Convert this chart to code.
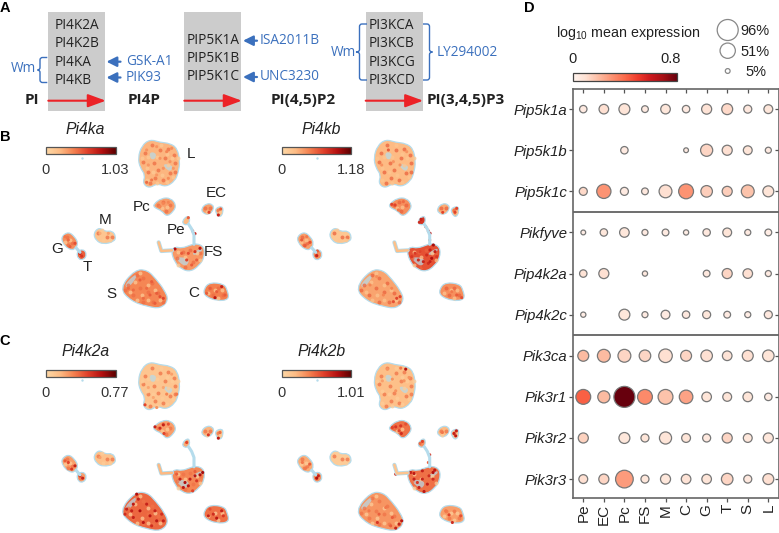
import numpy as np, pandas as pd, seaborn as sns
import matplotlib
matplotlib.use("Agg")
import matplotlib.pyplot as plt
from matplotlib.colors import LinearSegmentedColormap, Normalize
from matplotlib.cm import ScalarMappable
from matplotlib.path import Path
from matplotlib.patches import PathPatch, Rectangle

sns.set_theme(style="white")
plt.rcParams['font.family'] = ['Liberation Sans', 'DejaVu Sans']
plt.rcParams['mathtext.default'] = 'regular'

W, H = 779, 533
N = np.nan
genes = ['Pip5k1a','Pip5k1b','Pip5k1c','Pikfyve','Pip4k2a','Pip4k2c','Pik3ca','Pik3r1','Pik3r2','Pik3r3']
cells = ['Pe','EC','Pc','FS','M','C','G','T','S','L']
pct = [[12,20,26,10,20,12,22,26,14,17],
       [N,N,12,N,N,5,32,22,17,8],
       [14,44,14,10,36,48,29,22,36,26],
       [5,12,20,8,10,6,12,17,8,10],
       [12,22,N,6,N,N,10,22,20,8],
       [6,N,26,8,17,12,14,10,8,14],
       [26,36,36,29,40,26,29,20,26,29],
       [48,32,96,48,48,40,20,17,20,12],
       [22,N,26,14,32,17,14,22,17,22],
       [17,22,68,14,22,20,20,29,14,26]]
expr = [[.05,.10,.08,.05,.07,.05,.09,.12,.06,.07],
        [N,N,.05,N,N,.05,.13,.10,.08,.05],
        [.12,.30,.05,.06,.10,.30,.15,.15,.18,.08],
        [.04,.07,.07,.05,.05,.04,.06,.08,.05,.04],
        [.09,.10,N,.06,N,N,.06,.13,.10,.05],
        [.04,N,.07,.05,.05,.06,.07,.05,.04,.06],
        [.20,.20,.13,.13,.10,.13,.10,.09,.10,.08],
        [.42,.20,.80,.32,.18,.26,.08,.08,.08,.05],
        [.14,N,.07,.08,.08,.08,.06,.13,.07,.07],
        [.10,.13,.28,.07,.07,.09,.08,.13,.06,.10]]
legend_pct = [96, 51, 5]

# UMAP cluster outlines (UMAP units)
clusters = {
 'L': [(425,62),(450,43),(480,52),(510,55),(532,70),(540,110),(535,142),(525,168),(497,186),(472,175),(447,190),(428,175),(436,150),(420,128),(414,98)],
 'Pc': [(460,238),(485,219),(512,219),(529,240),(520,260),(500,275),(485,257),(463,248)],
 'EC1': [(604,250),(620,235),(638,238),(642,252),(627,270),(608,264)],
 'EC2': [(646,250),(667,243),(670,260),(661,278),(648,266)],
 'M': [(280,325),(297,307),(315,320),(337,317),(348,335),(342,350),(310,358),(288,347)],
 'G': [(184,335),(205,320),(224,335),(235,355),(224,375),(205,372),(188,354)],
 'T': [(230,380),(250,372),(261,388),(251,405),(234,402)],
 'PeTop': [(546,288),(562,272),(570,280),(566,298),(552,300)],
 'FS': [(513,378),(525,365),(545,370),(572,360),(590,355),(613,366),(613,398),(597,422),(572,440),(545,433),(524,412)],
 'S': [(358,490),(405,434),(442,435),(468,462),(493,495),(506,525),(482,551),(440,544),(393,528)],
 'C': [(612,490),(630,472),(672,477),(682,495),(688,524),(650,528),(612,512)],
}
strand = [(566,298),(575,312),(582,330),(582,358)]
appendix = [(476,352),(484,378),(516,376)]
strand2 = [(228,368),(240,382)]
gaps = {
 'L': [[(450,80),(470,85),(465,105),(448,100)],[(490,115),(520,122),(512,140),(495,130)]],
 'FS': [[(525,395),(570,400),(560,425),(540,415)],[(575,385),(606,368),(606,380),(585,392)]],
 'S': [[(372,480),(405,447),(412,455),(385,490)]],
}
fill_a  = dict(L=.22,Pc=.30,EC1=.30,EC2=.20,M=.13,G=.35,T=.50,PeTop=.2,FS=.32,S=.38,C=.40)
fill_b  = dict(L=.20,Pc=.35,EC1=.25,EC2=.25,M=.12,G=.30,T=.35,PeTop=.65,FS=.55,S=.28,C=.35)
fill_2a = dict(L=.13,Pc=.30,EC1=.22,EC2=.15,M=.16,G=.30,T=.30,PeTop=.25,FS=.38,S=.48,C=.45)
fill_2b = dict(L=.17,Pc=.45,EC1=.20,EC2=.15,M=.09,G=.25,T=.35,PeTop=.35,FS=.45,S=.33,C=.30)

# Cell positions that read slightly darker / lighter than their cluster
mottle_dark = [(435,85),(455,60),(480,75),(505,72),(522,90),(430,110),(462,115),(495,100),(525,115),(445,140),(475,135),(510,145),(490,165),(450,175),(465,160),(525,140),
 (475,240),(490,230),(510,240),(497,258),(615,250),(630,250),(655,255),(295,325),(320,335),(335,335),(200,335),(215,355),(205,360),(240,390),
 (530,400),(550,380),(570,375),(600,385),(580,410),(555,425),(385,480),(410,450),(430,460),(455,475),(420,490),(445,500),(475,505),(400,510),(430,530),(460,530),(490,530),(375,495),(630,490),(655,490),(670,510),(640,510)]
mottle_light = [(445,95),(470,95),(500,88),(515,100),(440,130),(460,140),(485,150),(505,120),(520,155),(440,165),(482,60),(425,100),(500,170),(470,175),(535,100),
 (500,245),(485,250),(620,262),(660,262),(310,345),(305,315),(330,345),(210,345),(195,350),(535,420),(590,385),(555,395),(600,405),(535,380),
 (405,470),(390,500),(425,510),(445,480),(465,495),(480,525),(420,445),(445,525),(410,525),(645,495),(665,495),(625,505),(655,518)]

# Strongly expressing cells: x, y, expression (fraction of the bar)
hot_a = [(440,75,.4),(470,65,.4),(500,80,.45),(480,100,.4),(510,110,.4),(445,120,.38),(490,130,.4),(520,130,.38),(455,165,.5),(440,172,.55),(505,160,.42),(470,150,.38),(515,70,.42),
 (490,235,.45),(505,232,.45),(480,245,.45),(627,262,.7),(655,270,.85),(662,252,.6),(300,325,.3),(325,325,.35),(205,345,.55),(225,355,.65),(210,365,.6),(195,335,.5),(240,385,.85),(245,393,.75),
 (565,278,.6),(578,318,.7),(585,326,.85),(525,372,.95),(600,370,.9),(585,380,.75),(565,385,.65),(560,405,.7),(590,405,.6),(545,385,.6),(575,420,.6),
 (470,505,.6),(480,515,.65),(490,520,.7),(420,465,.6),(440,490,.55),(400,495,.55),(450,510,.6),(465,535,.6),(430,520,.55),(385,490,.55),(455,470,.6),
 (665,485,.85),(645,518,.9),(630,490,.6),(650,500,.6),(675,510,.6),(620,505,.6)]
hot_b = [(593,360,.98),(583,375,.85),(598,380,.85),(573,390,.8),(588,400,.95),(548,405,.8),(563,410,.85),(538,385,.75),(528,395,.75),(578,415,.8),(553,380,.7),(603,395,.75),(583,410,.85),(563,425,.65),
 (556,283,.85),(551,292,.8),(583,325,.9),(578,318,.8),(570,305,.6),(582,345,.5),(458,75,.6),(493,120,.4),(438,120,.4),(513,80,.4),(473,110,.4),
 (478,240,.7),(468,238,.7),(503,230,.55),(488,255,.5),(621,262,.7),(663,250,.7),(658,262,.7),(198,345,.6),(223,352,.65),(208,362,.6),(213,335,.5),(243,392,.85),(245,378,.6),
 (483,520,.7),(473,530,.65),(493,515,.7),(403,480,.45),(443,510,.45),(423,455,.42),(468,490,.45),(633,490,.55),(663,510,.6),(678,518,.65),(648,500,.5)]
hot_2a = [(435,172,.7),(470,180,.4),(500,140,.45),(530,140,.5),(445,120,.32),(490,120,.32),(515,80,.35),(460,150,.32),
 (465,238,.85),(490,232,.85),(480,242,.8),(505,230,.65),(492,258,.7),(625,262,.75),(655,272,.9),(660,255,.55),(300,330,.35),(225,355,.85),(205,345,.7),(215,365,.75),(195,340,.6),(240,385,.8),(248,392,.85),
 (560,285,.7),(585,372,.6),(608,375,.98),(600,382,.95),(585,385,.9),(570,395,.85),(555,405,.95),(540,395,.85),(565,415,.9),(550,420,.9),(578,430,.7),(590,400,.75),(530,380,.6),
 (410,440,.95),(400,470,.9),(420,490,.95),(380,485,.85),(440,470,.85),(450,505,.9),(470,520,.9),(490,520,.85),(430,525,.9),(400,510,.85),(375,500,.8),(455,535,.8),(415,455,.85),(395,490,.85),(465,490,.85),(485,500,.8),
 (665,490,.85),(640,500,.8),(625,505,.85),(650,512,.9),(630,485,.65),(670,505,.75)]
hot_2b = [(510,65,.95),(495,62,.5),(470,95,.4),(505,100,.4),(440,100,.35),(480,130,.4),(520,90,.4),(455,65,.4),
 (480,238,.75),(495,235,.75),(470,240,.7),(510,230,.65),(497,258,.8),(490,250,.7),(662,250,.85),(660,265,.9),(620,255,.5),(655,258,.85),(200,345,.5),(222,350,.6),(210,362,.5),(243,392,.95),(248,385,.85),
 (560,282,.7),(553,288,.55),(582,322,.75),(578,345,.6),(525,375,.85),(535,378,.9),(560,370,.85),(592,375,.95),(597,368,.9),(580,385,.8),(560,395,.85),(535,395,.85),(550,420,.85),(565,432,.9),(575,410,.85),(592,395,.8),(545,405,.75),(480,380,.8),
 (498,520,.9),(490,530,.85),(480,542,.85),(430,500,.6),(425,525,.75),(450,480,.5),(400,490,.5),(470,510,.6),(465,535,.6),(650,525,.8),(640,502,.7),(675,505,.65),(630,490,.5)]

panels = [
 ('Pi4ka', '1.03', 0, 125, fill_a, hot_a),
 ('Pi4kb', '1.18', 235.7, 125, fill_b, hot_b),
 ('Pi4k2a', '0.77', 0, 347.5, fill_2a, hot_2a),
 ('Pi4k2b', '1.01', 235.7, 347.5, fill_2b, hot_2b),
]
cluster_labels = [('L',572,88),('Pc',426,245),('EC',650,205),('M',314,285),('Pe',529,316),('FS',641,380),('G',171,373),('T',261,426),('S',333,508),('C',581,503)]

umap_cmap = LinearSegmentedColormap.from_list('u',['#fdd8a6','#fdbb84','#f4804f','#e0402a','#b40f0f','#5c0000'])
BLUE = '#3b70bd'; LBLUE = '#b5dcec'; RED = '#ec2227'; GREY = '#cccccc'; DARK = '#222222'

fig = plt.figure(figsize=(W/100, H/100), dpi=100)
fig.patch.set_facecolor('white')

def rect(x0, y0, x1, y1):
    return [x0/W, 1-y1/H, (x1-x0)/W, (y1-y0)/H]

def smooth(poly):
    """Closed path that rounds a hand-read outline through its edge midpoints."""
    p = list(poly); n = len(p)
    mid = lambda a, b: ((a[0]+b[0])/2, (a[1]+b[1])/2)
    v = [mid(p[-1], p[0])]; c = [Path.MOVETO]
    for i in range(n):
        v += [p[i], mid(p[i], p[(i+1) % n])]; c += [Path.CURVE3, Path.CURVE3]
    return Path(v, c)

ov = fig.add_axes([0,0,1,1], zorder=1)
ov.set_xlim(0,W); ov.set_ylim(H,0); ov.axis('off'); ov.patch.set_alpha(0)

# ---- Panel A
DF = ['Open Sans','DejaVu Sans']
for x0 in (48.3, 184.3, 365.7):
    ov.add_patch(Rectangle((x0,12.3),57,98.4,fc=GREY,ec='none'))
def dtext(x,y,s,ha='center',c=DARK,fw='normal',fs=9.8):
    ov.text(x,y,s,ha=ha,va='center',color=c,fontsize=fs,family=DF,fontweight=fw)
for s,y in zip(['PI4K2A','PI4K2B','PI4KA','PI4KB'],[25.3,43.7,62,80]):
    dtext(54.5,y,s,ha='left')
for s,y in zip(['PIP5K1A','PIP5K1B','PIP5K1C'],[40.7,58.7,77]):
    dtext(187,y,s,ha='left')
for s,y in zip(['PI3KCA','PI3KCB','PI3KCG','PI3KCD'],[25.7,43.7,62,80]):
    dtext(368.5,y,s,ha='left')
for s,x in zip(['PI','PI4P','PI(4,5)P2','PI(3,4,5)P3'],[31.7,144,303,466]):
    dtext(x,100,s,fw='bold',fs=11)
for x0 in (48.3,184.3,365.7):
    ov.annotate('',xy=(x0+57.5,100.7),xytext=(x0,100.7),
        arrowprops=dict(arrowstyle='-|>,head_width=0.33,head_length=0.9',color=RED,lw=1.5,shrinkA=0,shrinkB=0))
for x,y in ((106.5,61.7),(106.5,77.5),(243,40.7),(243,77)):
    ov.annotate('',xy=(x,y),xytext=(x+14,y),
        arrowprops=dict(arrowstyle='-|>,head_width=0.25,head_length=0.5',color=BLUE,lw=1.6,shrinkA=0,shrinkB=0))
for s,x,y in [('GSK-A1',125.7,61.7),('PIK93',125.7,77.5),('ISA2011B',260,40.7),('UNC3230',260,77),('LY294002',436.7,52)]:
    dtext(x,y,s,ha='left',c=BLUE)
dtext(23.5,68,'Wm',c=BLUE); dtext(343,52,'Wm',c=BLUE)
def brace(xa, xb, tip, y0, y1):
    ym=(y0+y1)/2; r=2.5*np.sign(xb-xa)
    v=[(xa,y0),(xb-r,y0),(xb,y0),(xb,y0+2.5),(xb,ym-2.5),(xb,ym),(tip,ym),(xb,ym),(xb,ym+2.5),(xb,y1-2.5),(xb,y1),(xb-r,y1),(xa,y1)]
    c=[Path.MOVETO,Path.LINETO,Path.CURVE3,Path.CURVE3,Path.LINETO,Path.CURVE3,Path.CURVE3,Path.CURVE3,Path.CURVE3,Path.LINETO,Path.CURVE3,Path.CURVE3,Path.LINETO]
    ov.add_patch(PathPatch(Path(v,c),fc='none',ec=BLUE,lw=1.0))
brace(47.3,40,37.5,57.5,82.5)
brace(367,359.5,356,24,80)
brace(423,429.5,432.5,24,80)

# ---- Panels B, C (UMAP)
for title,maxv,ox,oy,fills,hot in panels:
    ax = fig.add_axes(rect(ox,oy,ox+260,oy+205), zorder=2)
    ax.set_xlim(0,780); ax.set_ylim(615,0); ax.axis('off'); ax.patch.set_alpha(0)
    for line,col,lw in ((strand,LBLUE,2.2),(strand2,LBLUE,2.2),(appendix,LBLUE,3.0),(appendix,umap_cmap(fills['M']+.05),1.8)):
        xs,ys = zip(*line)
        ax.plot(xs,ys,color=col,lw=lw,solid_capstyle='round')
    for k,poly in clusters.items():
        ax.add_patch(PathPatch(smooth(poly),fc=umap_cmap(fills[k]),ec=LBLUE,lw=0.9))
    for k,pl in gaps.items():
        for p in pl:
            ax.add_patch(PathPatch(smooth(p),fc=LBLUE,ec='none',alpha=.7))
    base = np.mean(list(fills.values()))
    md = pd.DataFrame(mottle_dark,columns=['x','y']); ml = pd.DataFrame(mottle_light,columns=['x','y'])
    ax.scatter(md.x,md.y,s=8,color=umap_cmap(base+.16),linewidth=0,alpha=.75)
    ax.scatter(ml.x,ml.y,s=8,color=umap_cmap(max(base-.2,0)),linewidth=0,alpha=.75)
    hdf = pd.DataFrame(hot,columns=['x','y','v'])
    sns.scatterplot(data=hdf,x='x',y='y',hue='v',hue_norm=(0,1.18),palette=umap_cmap,s=5,linewidth=0,legend=False,ax=ax)
    ax.set_xlabel(''); ax.set_ylabel('')
    ov.text(ox+85.7,oy+4.2,title,ha='center',va='center',style='italic',fontsize=11.3,color=DARK)
    cax = fig.add_axes(rect(ox+46,oy+22.3,ox+115.7,oy+29), zorder=3)
    cb = fig.colorbar(ScalarMappable(Normalize(0,1),umap_cmap),cax=cax,orientation='horizontal',ticks=[])
    cb.outline.set_edgecolor('#555555'); cb.outline.set_linewidth(.9)
    ov.text(ox+46,oy+45.5,'0',ha='center',va='center',fontsize=10.5,color='#333333')
    ov.text(ox+115,oy+45.5,maxv,ha='center',va='center',fontsize=10.5,color='#333333')
    ax.scatter([245],[98],s=3,color=LBLUE,linewidth=0)
    if title=='Pi4ka':
        for s,x,y in cluster_labels:
            ax.text(x,y,s,ha='center',va='center',fontsize=11,color=DARK)

for s,x,y in [('A',5,8),('B',5,137),('C',5,341),('D',529,8)]:
    ov.text(x,y,s,ha='center',va='center',fontsize=10.5,fontweight='bold',color='black')

# ---- Panel D (dot plot)
dfp = pd.DataFrame(pct,index=genes,columns=cells).rename_axis('gene').reset_index().melt('gene',var_name='cell',value_name='pct')
dfe = pd.DataFrame(expr,index=genes,columns=cells).rename_axis('gene').reset_index().melt('gene',var_name='cell',value_name='expr')
dots = dfp.merge(dfe,on=['gene','cell']).dropna()
dots['gene'] = pd.Categorical(dots['gene'],genes)
dots['cell'] = pd.Categorical(dots['cell'],cells)
S_K = (21*0.72)**2/96
ad = fig.add_axes(rect(573,89,778.6,498), zorder=2)
dots['xi']=dots['cell'].cat.codes; dots['yi']=dots['gene'].cat.codes
sns.scatterplot(data=dots,x='xi',y='yi',size='pct',size_norm=(5,96),sizes=(5*S_K,96*S_K),hue='expr',hue_norm=(0,.8),
    palette='Reds',edgecolor='#777777',linewidth=.9,legend=False,ax=ad,clip_on=False)
ad.set_xlim(-.5,9.5); ad.set_ylim(9.46,-.49)
ad.set_xticks(range(10)); ad.set_xticklabels(cells,rotation=90,fontsize=11,color=DARK)
ad.set_yticks(range(10)); ad.set_yticklabels(genes,style='italic',fontsize=10.7,color=DARK)
ad.set_xlabel(''); ad.set_ylabel('')
ad.tick_params(axis='both',which='both',length=3,width=.9,color='#555555',bottom=True,left=True,top=False,right=False,pad=1.2)
ax_top = ad.secondary_xaxis('top'); ax_top.set_xticks(range(10)); ax_top.set_xticklabels([])
ax_top.tick_params(direction='in',length=3,width=.9,color='#555555')
ax_top.spines['top'].set_visible(False)
ax_r = ad.secondary_yaxis('right'); ax_r.set_yticks(range(10)); ax_r.set_yticklabels([])
ax_r.tick_params(direction='in',length=3,width=.9,color='#555555')
ax_r.spines['right'].set_visible(False)
for sp in ad.spines.values():
    sp.set_visible(True); sp.set_edgecolor('#666666'); sp.set_linewidth(1.2)
for yy in (2.5,5.5):
    ad.axhline(yy,color='#555555',lw=1.2)

ov.text(556.5,33,'log$_{10}$ mean expression',ha='left',va='center',fontsize=10.3,color=DARK)
ov.text(572.5,59,'0',ha='center',va='center',fontsize=10.5,color=DARK)
ov.text(670.7,59,'0.8',ha='center',va='center',fontsize=10.5,color=DARK)
cax = fig.add_axes(rect(572.7,73,677,81.3),zorder=3)
cb = fig.colorbar(ScalarMappable(Normalize(0,.8),'Reds'),cax=cax,orientation='horizontal',ticks=[])
cb.outline.set_edgecolor('#444444'); cb.outline.set_linewidth(.9)

leg = pd.DataFrame({'x':[727.7]*3,'y':[30,50.7,71],'pct':legend_pct})
sns.scatterplot(data=leg,x='x',y='y',size='pct',size_norm=(5,96),sizes=(5*S_K,96*S_K),color='white',edgecolor='#888888',linewidth=.9,legend=False,ax=ov)
ov.set_xlabel(''); ov.set_ylabel('')
for p,x,y in zip(legend_pct,[755,755,756],[31,52,72]):
    ov.text(x,y,f'{p}%',ha='center',va='center',fontsize=10.5,color=DARK)
ov.set_xlim(0,W); ov.set_ylim(H,0); ov.axis('off')

fig.savefig('out.png',dpi=100)
